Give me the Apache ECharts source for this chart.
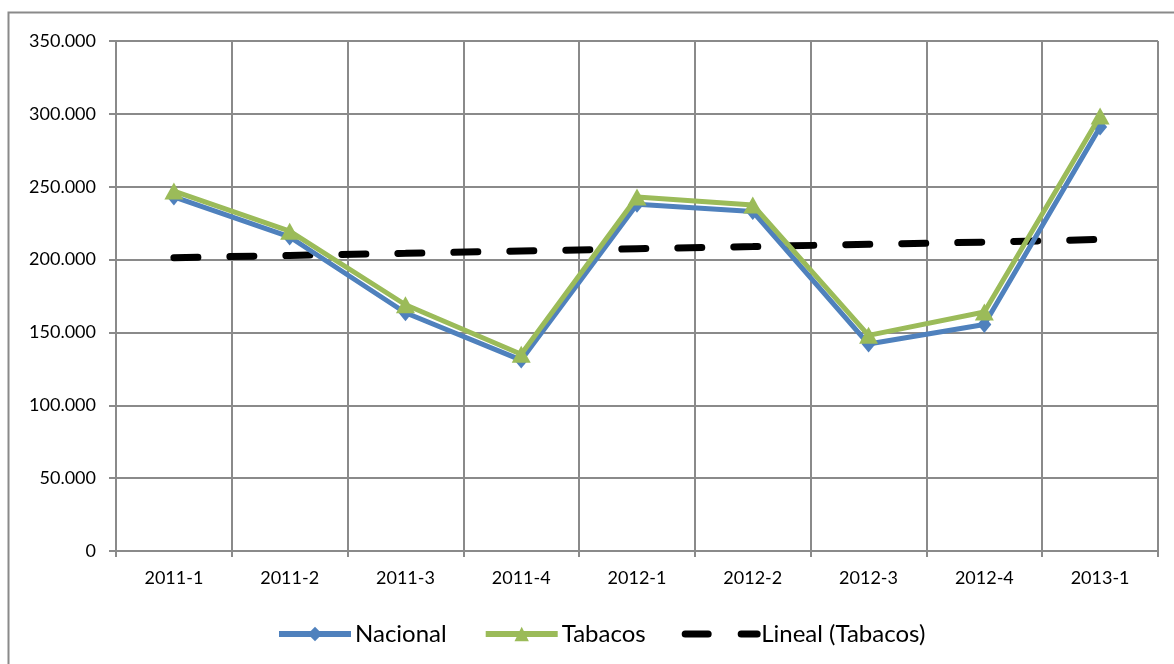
<!DOCTYPE html>
<html>
<head>
<meta charset="utf-8">
<script src="https://cdn.jsdelivr.net/npm/echarts@6/dist/echarts.min.js"></script>
<style>
  html, body { margin: 0; padding: 0; background: #fff; }
  #chart { width: 1174px; height: 664px; }
</style>
</head>
<body>
<div id="chart"></div>
<script>
// datos
var categories = ['2011-1', '2011-2', '2011-3', '2011-4', '2012-1', '2012-2', '2012-3', '2012-4', '2013-1']
var nacional = [243000, 215500, 163500, 131000, 238000, 233000, 142000, 155500, 291000]
var tabacos = [247000, 219500, 169000, 135000, 243000, 237500, 148000, 164000, 298500]
var lineal = [201300, 202800, 204300, 205900, 207400, 208900, 210500, 212000, 213800]
var yTicks = [0, 50000, 100000, 150000, 200000, 250000, 300000, 350000]

var gridColor = '#8a8a8a'
var font = 'Lato'

var myChart = echarts.init(document.getElementById('chart'))

var option = {
  backgroundColor: '#fff',
  animation: false,
  textStyle: { fontFamily: font },
  graphic: [{
    type: 'rect',
    shape: { x: 8.5, y: 12.5, width: 1200, height: 700 },
    style: { fill: 'none', stroke: gridColor, lineWidth: 2 },
    silent: true
  }],
  grid: { left: 116, right: 16, top: 41, bottom: 113 },
  legend: {
    left: 271,
    top: 617,
    itemWidth: 72,
    itemHeight: 18,
    itemGap: 36,
    textStyle: { fontFamily: font, fontSize: 24, color: '#000', padding: [0, 0, 0, -1] },
    data: [
      { name: 'Nacional', lineStyle: { width: 6 } },
      { name: 'Tabacos', lineStyle: { width: 6 } },
      { name: 'Lineal (Tabacos)', itemStyle: { opacity: 0 }, lineStyle: { type: [23, 33], width: 7, cap: 'round' } }
    ]
  },
  xAxis: {
    type: 'category',
    data: categories,
    boundaryGap: true,
    axisLine: { lineStyle: { color: gridColor, width: 2 } },
    axisTick: { show: true, length: 6, interval: 0, lineStyle: { color: gridColor, width: 2 } },
    axisLabel: { color: '#000', fontSize: 18, margin: 18, interval: 0, fontFamily: font },
    splitLine: { show: true, interval: 0, lineStyle: { color: gridColor, width: 2 } }
  },
  yAxis: {
    type: 'value',
    min: yTicks[0],
    max: yTicks[yTicks.length - 1],
    interval: 50000,
    axisLine: { show: true, lineStyle: { color: gridColor, width: 2 } },
    axisTick: { show: true, length: 7, lineStyle: { color: gridColor, width: 2 } },
    axisLabel: {
      color: '#000', fontSize: 18, margin: 20, fontFamily: font,
      formatter: function (v) {
        return v === 0 ? '0' : String(v).replace(/\B(?=(\d{3})+(?!\d))/g, '.')
      }
    },
    splitLine: { show: true, lineStyle: { color: gridColor, width: 2 } }
  },
  series: [
    {
      name: 'Nacional',
      type: 'line',
      data: nacional,
      symbol: 'diamond',
      symbolSize: [14, 17],
      color: '#4f81bd',
      lineStyle: { width: 5, color: '#4f81bd' },
      itemStyle: { color: '#4f81bd' },
      z: 3
    },
    {
      name: 'Tabacos',
      type: 'line',
      data: tabacos,
      symbol: 'triangle',
      symbolSize: [19, 17],
      color: '#9bbb59',
      lineStyle: { width: 5, color: '#9bbb59' },
      itemStyle: { color: '#9bbb59' },
      z: 4
    },
    {
      name: 'Lineal (Tabacos)',
      type: 'line',
      data: lineal,
      symbol: 'none',
      color: '#000',
      lineStyle: { width: 7, color: '#000', type: [24, 32], cap: 'round' },
      z: 2
    }
  ]
}

myChart.setOption(option)
</script>
</body>
</html>
